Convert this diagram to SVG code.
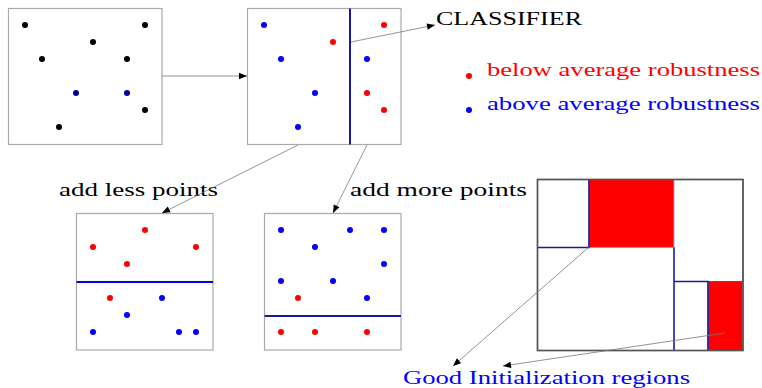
<svg xmlns="http://www.w3.org/2000/svg" width="762" height="388" viewBox="0 0 762 388">
<style>
.box{fill:#fff;stroke:#aaa;stroke-width:1.2}
.con{stroke:#777;stroke-width:0.8;fill:none;marker-end:url(#ah)}
.r{fill:#ff0000}.b{fill:#0000ff}.k{fill:#000}.db{fill:#000099}
.sep{stroke:#1a1a99;stroke-width:2}
.t{font-family:"Liberation Serif",serif;font-size:19px}
</style>
<defs>
<marker id="ah" viewBox="0 0 10 10" refX="10" refY="5" markerWidth="10" markerHeight="8" markerUnits="userSpaceOnUse" orient="auto">
<path d="M0,1 L10,5 L0,9 z" fill="#000"/>
</marker>
</defs>
<g id="box1">
<rect class="box" x="8.5" y="8.5" width="153.5" height="136"/>
<circle class="k" cx="25" cy="25" r="3"/><circle class="k" cx="145" cy="25" r="3"/>
<circle class="k" cx="93" cy="42" r="3"/><circle class="k" cx="42" cy="59" r="3"/>
<circle class="k" cx="127" cy="59" r="3"/><circle class="db" cx="76" cy="93" r="3"/>
<circle class="db" cx="127" cy="93" r="3"/><circle class="k" cx="145" cy="110" r="3"/>
<circle class="k" cx="59" cy="127" r="3"/>
</g>
<g id="box2">
<rect class="box" x="247.5" y="8.5" width="153.5" height="136"/>
<line class="sep" x1="350" y1="8.5" x2="350" y2="144.5"/>
<circle class="b" cx="264" cy="25" r="3"/><circle class="r" cx="384" cy="25" r="3"/>
<circle class="r" cx="333" cy="42" r="3"/><circle class="b" cx="281" cy="59" r="3"/>
<circle class="b" cx="367" cy="59" r="3"/><circle class="b" cx="315" cy="93" r="3"/>
<circle class="r" cx="367" cy="93" r="3"/><circle class="r" cx="384" cy="110" r="3"/>
<circle class="b" cx="298" cy="127" r="3"/>
</g>
<g id="classifier">
<text class="t" x="436" y="25" font-size="20" textLength="146" lengthAdjust="spacingAndGlyphs">CLASSIFIER</text>
</g>
<g id="legend">
<circle class="r" cx="469" cy="76" r="3"/>
<text class="t" x="487" y="76" fill="#ff0000" textLength="273" lengthAdjust="spacingAndGlyphs">below average robustness</text>
<circle class="b" cx="469" cy="110" r="3"/>
<text class="t" x="487" y="110" fill="#0000ff" textLength="273" lengthAdjust="spacingAndGlyphs">above average robustness</text>
</g>
<g id="box3">
<text class="t" x="59" y="196" textLength="159" lengthAdjust="spacingAndGlyphs">add less points</text>
<rect class="box" x="76.5" y="213.5" width="136.5" height="136.5"/>
<line x1="76.5" y1="282" x2="213" y2="282" stroke="#0000ee" stroke-width="2"/>
<circle class="r" cx="145" cy="230" r="3"/><circle class="r" cx="93" cy="247" r="3"/>
<circle class="r" cx="196" cy="247" r="3"/><circle class="r" cx="127" cy="264" r="3"/>
<circle class="r" cx="110" cy="298" r="3"/><circle class="b" cx="162" cy="298" r="3"/>
<circle class="b" cx="127" cy="315" r="3"/><circle class="b" cx="93" cy="332" r="3"/>
<circle class="b" cx="179" cy="332" r="3"/><circle class="b" cx="196" cy="332" r="3"/>
</g>
<g id="box4">
<text class="t" x="350" y="196" textLength="177" lengthAdjust="spacingAndGlyphs">add more points</text>
<rect class="box" x="264.5" y="213.5" width="136.5" height="136.5"/>
<line class="sep" x1="264.5" y1="316" x2="401" y2="316"/>
<circle class="b" cx="281" cy="230" r="3"/><circle class="b" cx="350" cy="230" r="3"/>
<circle class="b" cx="384" cy="230" r="3"/><circle class="b" cx="315" cy="247" r="3"/>
<circle class="b" cx="384" cy="264" r="3"/><circle class="b" cx="281" cy="281" r="3"/>
<circle class="b" cx="333" cy="281" r="3"/><circle class="r" cx="298" cy="298" r="3"/>
<circle class="b" cx="367" cy="298" r="3"/><circle class="r" cx="281" cy="332" r="3"/>
<circle class="r" cx="315" cy="332" r="3"/><circle class="r" cx="367" cy="332" r="3"/>
</g>
<g id="regions">
<rect x="537.5" y="179.5" width="205.5" height="171" fill="#fff" stroke="#555" stroke-width="1.4"/>
<rect x="589" y="179.5" width="85" height="68" fill="#ff0000" stroke="#9999cc" stroke-width="1"/>
<rect x="708" y="281.5" width="35" height="69" fill="#ff0000" stroke="#9999cc" stroke-width="1"/>
<g stroke="#1a1a99" stroke-width="1.6" fill="none">
<polyline points="589,179.5 589,247.5 537.5,247.5"/>
<line x1="674" y1="247.5" x2="674" y2="350.5"/>
<polyline points="708,350.5 708,281.5 674,281.5"/>
</g>
<rect x="537.5" y="179.5" width="205.5" height="171" fill="none" stroke="#555" stroke-width="1.4"/>
<line x1="674" y1="281.5" x2="743" y2="281.5" stroke="#1a1a99" stroke-width="1.2" opacity="0.6"/>
</g>
<g id="good-regions">
<text class="t" x="403" y="384" fill="#0000ff" textLength="287" lengthAdjust="spacingAndGlyphs">Good Initialization regions</text>
</g>
<g id="connectors">
<line class="con" x1="162" y1="76" x2="247" y2="76"/>
<line class="con" x1="351" y1="42" x2="435" y2="25"/>
<line class="con" x1="298" y1="145" x2="162" y2="213"/>
<line class="con" x1="367" y1="145" x2="333" y2="213"/>
<line class="con" x1="589" y1="247" x2="453" y2="366"/>
<line class="con" x1="725" y1="333" x2="503" y2="366"/>
</g>
</svg>
